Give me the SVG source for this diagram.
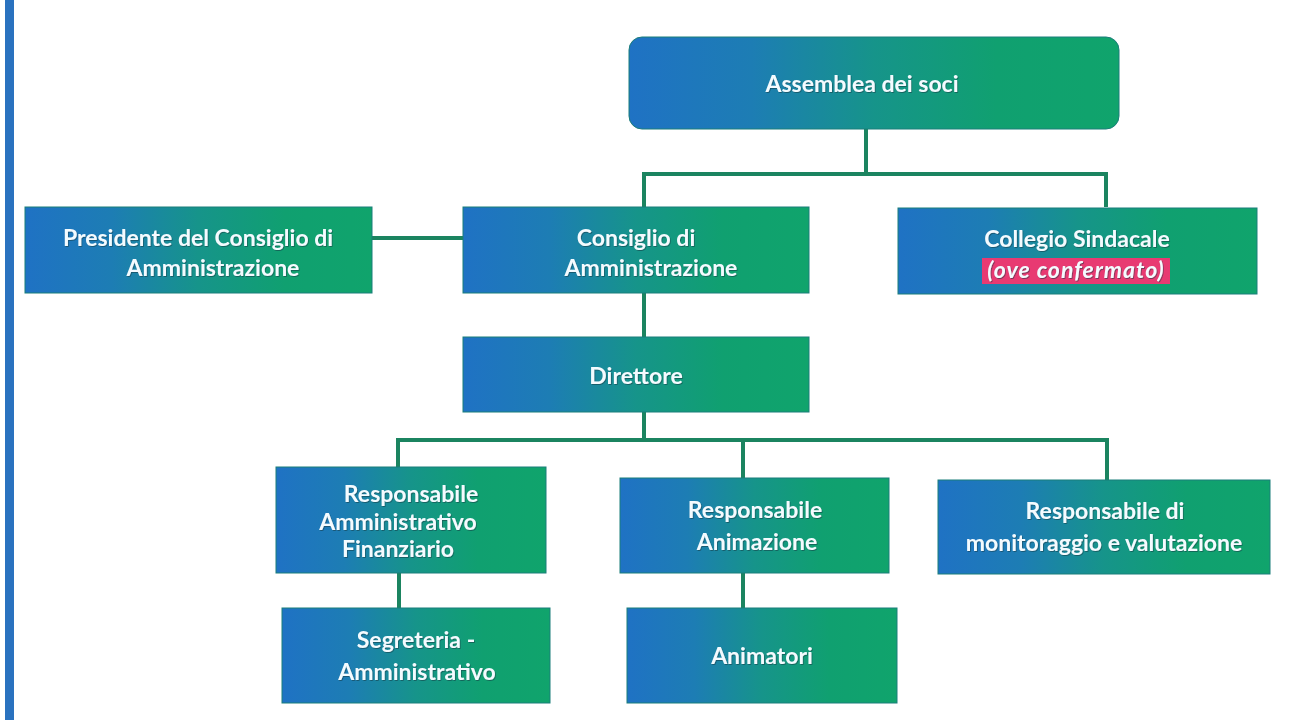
<svg xmlns="http://www.w3.org/2000/svg" width="1314" height="720" viewBox="0 0 1314 720">
<style>
.box{fill:url(#g);stroke:#1b7e7a;stroke-width:1}
.t{font-family:Lato,"Open Sans","Liberation Sans",sans-serif;font-weight:700;font-size:23px;fill:#f4fbff;text-anchor:middle;filter:url(#sh)}
.c{fill:none;stroke:#1b8460;stroke-width:4}
</style>
<defs>
<linearGradient id="g" x1="0" y1="0" x2="1" y2="0">
<stop offset="0" stop-color="#1f72c4"/>
<stop offset="0.25" stop-color="#1d7db4"/>
<stop offset="0.5" stop-color="#16948a"/>
<stop offset="0.75" stop-color="#10a070"/>
<stop offset="1" stop-color="#10a46c"/>
</linearGradient>
<filter id="sh" x="-5%" y="-20%" width="110%" height="140%">
<feDropShadow dx="0.8" dy="1" stdDeviation="0.6" flood-color="#0b3b45" flood-opacity="0.55"/>
</filter>
</defs>
<rect x="0" y="0" width="1314" height="720" fill="#ffffff"/>
<rect x="5" y="0" width="9" height="720" fill="#2a72bf"/>
<g id="connectors">
<path class="c" d="M866 129 V174 M644 207 V174 H1106 V207"/>
<path class="c" d="M372 238 H463"/>
<path class="c" d="M644 293 V337"/>
<path class="c" d="M644 412 V440 M398 467 V440 H1107 V480 M743 440 V478"/>
<path class="c" d="M399 573 V608"/>
<path class="c" d="M743 573 V608"/>
</g>
<g id="assemblea">
<rect class="box" x="629" y="37" width="490" height="92" rx="13"/>
<text class="t" x="862" y="92">Assemblea dei soci</text>
</g>
<g id="presidente">
<rect class="box" x="25" y="207" width="347" height="86"/>
<text class="t" x="198" y="246" font-size="23.5">Presidente del Consiglio di</text>
<text class="t" x="213" y="276" font-size="21.5">Amministrazione</text>
</g>
<g id="consiglio">
<rect class="box" x="463" y="207" width="346" height="86"/>
<text class="t" x="636" y="246">Consiglio di</text>
<text class="t" x="651" y="276" font-size="21.5">Amministrazione</text>
</g>
<g id="collegio">
<rect class="box" x="898" y="208" width="359" height="86"/>
<text class="t" x="1077" y="247">Collegio Sindacale</text>
<rect x="982" y="258" width="188" height="26" fill="#e83a72"/>
<text class="t" x="1076" y="278" font-style="italic" font-size="24" letter-spacing="1">(ove confermato)</text>
</g>
<g id="direttore">
<rect class="box" x="463" y="337" width="346" height="75"/>
<text class="t" x="636" y="384" font-size="24">Direttore</text>
</g>
<g id="resp-amm">
<rect class="box" x="276" y="467" width="270" height="106"/>
<text class="t" x="411" y="502" font-size="18.5">Responsabile</text>
<text class="t" x="398" y="530" font-size="17.5">Amministrativo</text>
<text class="t" x="398" y="557" font-size="17.5">Finanziario</text>
</g>
<g id="resp-anim">
<rect class="box" x="620" y="478" width="269" height="95"/>
<text class="t" x="755" y="518" font-size="24">Responsabile</text>
<text class="t" x="757" y="550">Animazione</text>
</g>
<g id="resp-mon">
<rect class="box" x="938" y="480" width="332" height="94"/>
<text class="t" x="1105" y="519" font-size="24">Responsabile di</text>
<text class="t" x="1104" y="551" font-size="24">monitoraggio e valutazione</text>
</g>
<g id="segreteria">
<rect class="box" x="282" y="608" width="268" height="95"/>
<text class="t" x="416" y="648" font-size="24">Segreteria -</text>
<text class="t" x="417" y="680" font-size="24">Amministrativo</text>
</g>
<g id="animatori">
<rect class="box" x="627" y="608" width="270" height="95"/>
<text class="t" x="762" y="664" font-size="24">Animatori</text>
</g>
</svg>
